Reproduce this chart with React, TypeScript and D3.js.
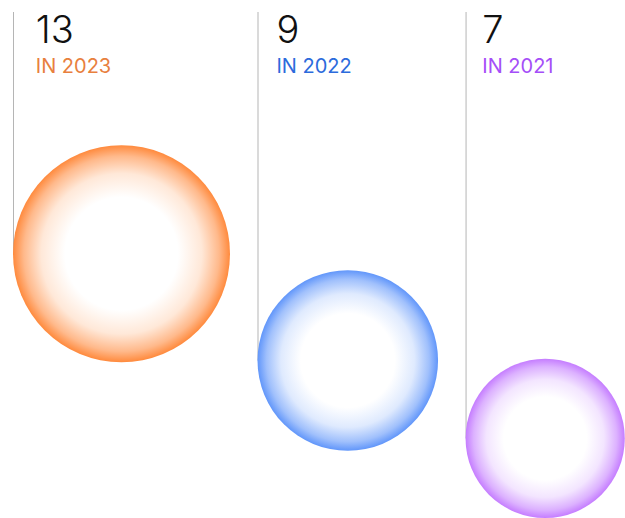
import React from 'react';
import * as d3 from 'd3';

const years = ['2023', '2022', '2021'];
const values = [13, 9, 7];
const edgeColors = ['#ff8a3d', '#6196fa', '#c57dff'];
const textColors = ['#e8803e', '#2c6bdc', '#a54ef8'];

const W = 625;
const H = 518;

export default function App() {
  const r = d3.scaleSqrt().domain([0, 13]).range([0, 108.5]);
  const gap = 27.5;
  const overlap = 92;
  const startX = 13;
  const lineTop = 12;

  const xs: number[] = [];
  let x = startX;
  values.forEach((v) => {
    xs.push(x);
    x += 2 * r(v) + gap;
  });

  const cys: number[] = new Array(values.length);
  let bottom = H;
  for (let i = values.length - 1; i >= 0; i--) {
    cys[i] = bottom - r(values[i]);
    bottom = cys[i] - r(values[i]) + overlap;
  }

  return (
    <svg
      width={W}
      height={H}
      style={{ position: 'absolute', left: 0, top: 0, background: '#fff' }}
    >
      <defs>
        {values.map((v, i) => (
          <radialGradient key={i} id={`g${i}`} cx="50%" cy="50%" r="50%">
            <stop offset="0%" stopColor="#fff" />
            <stop offset="52%" stopColor="#fff" />
            <stop offset="74%" stopColor={d3.interpolateRgb('#fff', edgeColors[i])(0.2)} />
            <stop offset="90%" stopColor={d3.interpolateRgb('#fff', edgeColors[i])(0.6)} />
            <stop offset="100%" stopColor={edgeColors[i]} />
          </radialGradient>
        ))}
      </defs>
      {values.map((v, i) => {
        const rr = r(v);
        const tx = xs[i] + 0.21 * rr;
        return (
          <g key={i}>
            <line
              x1={xs[i] + 0.5}
              x2={xs[i] + 0.5}
              y1={lineTop}
              y2={cys[i]}
              stroke="#b5b5b5"
              strokeWidth={1}
            />
            <circle cx={xs[i] + rr} cy={cys[i]} r={rr} fill={`url(#g${i})`} />
            <text
              x={tx}
              y={43}
              fontFamily="Inter"
              fontWeight={300}
              fontSize={38}
              fill="#111"
            >
              {v}
            </text>
            <text
              x={tx}
              y={73}
              fontFamily="Inter"
              fontWeight={400}
              fontSize={20}
              fill={textColors[i]}
            >
              {`IN ${years[i]}`}
            </text>
          </g>
        );
      })}
    </svg>
  );
}
